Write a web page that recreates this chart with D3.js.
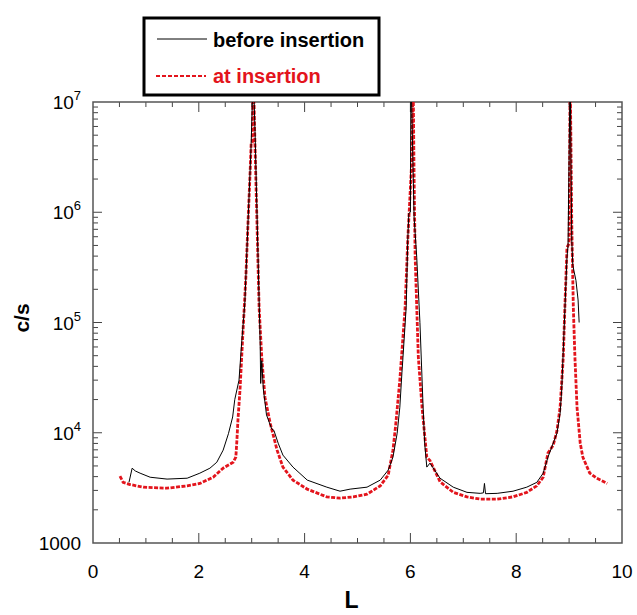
<!DOCTYPE html>
<html>
<head>
<meta charset="utf-8">
<script src="https://cdnjs.cloudflare.com/ajax/libs/d3/7.8.5/d3.min.js"></script>
<style>
    body { margin: 0; background: #fff; }
    text { font-family: Arial, "Liberation Sans", sans-serif; }
</style>
</head>
<body>
<div id="chart"></div>
<script>
// before insertion (black)
const beforeL = [0.68, 0.74, 0.80, 0.89, 1.08, 1.40, 1.78, 2.02, 2.21, 2.34, 2.46, 2.56, 2.64, 2.68, 2.76, 2.81, 2.87, 2.93, 2.99, 3.03, 3.07, 3.12, 3.16, 3.17, 3.19, 3.22, 3.25, 3.28, 3.33, 3.38, 3.42, 3.50, 3.59, 3.78, 4.05, 4.42, 4.67, 4.86, 5.18, 5.43, 5.58, 5.67, 5.75, 5.80, 5.84, 5.86, 5.92, 5.95, 5.97, 6.00, 6.01, 6.07, 6.12, 6.18, 6.24, 6.27, 6.31, 6.37, 6.56, 6.81, 7.07, 7.32, 7.38, 7.40, 7.42, 7.64, 7.94, 8.20, 8.39, 8.51, 8.60, 8.70, 8.77, 8.83, 8.86, 8.89, 8.96, 8.98, 9.00, 9.02, 9.05, 9.07, 9.13, 9.17, 9.19];
const beforeCps = [3550, 4770, 4500, 4300, 3950, 3800, 3870, 4300, 4770, 5400, 6950, 9800, 13900, 20000, 30000, 65000, 150000, 800000, 4200000, 20000000, 4000000, 390000, 65000, 28000, 45000, 25000, 19000, 14500, 12500, 10800, 10500, 8050, 6270, 4880, 3720, 3210, 2950, 3080, 3210, 3720, 4580, 6000, 9900, 17000, 35000, 48500, 137000, 560000, 980000, 1000000, 20000000, 900000, 390000, 100000, 17000, 8000, 4880, 5300, 3870, 3210, 2880, 2820, 2850, 3470, 2800, 2820, 2950, 3210, 3550, 4300, 6000, 8050, 9900, 15000, 24500, 56000, 390000, 500000, 3200000, 20000000, 560000, 330000, 240000, 160000, 100000];

// at insertion (red dashed)
const atL = [0.51, 0.57, 0.70, 0.95, 1.40, 1.78, 2.02, 2.27, 2.46, 2.65, 2.70, 2.72, 2.74, 2.78, 2.83, 2.89, 2.93, 2.97, 2.99, 3.01, 3.03, 3.06, 3.10, 3.14, 3.19, 3.25, 3.35, 3.48, 3.59, 3.78, 4.05, 4.42, 4.67, 4.92, 5.18, 5.43, 5.58, 5.67, 5.72, 5.80, 5.90, 5.95, 6.03, 6.05, 6.07, 6.09, 6.15, 6.22, 6.31, 6.37, 6.56, 6.81, 7.07, 7.32, 7.64, 7.94, 8.20, 8.39, 8.51, 8.60, 8.70, 8.77, 8.83, 8.89, 8.92, 8.96, 9.00, 9.02, 9.05, 9.08, 9.11, 9.15, 9.21, 9.26, 9.39, 9.52, 9.72];
const atCps = [4040, 3550, 3390, 3210, 3140, 3300, 3470, 3950, 4770, 5400, 6000, 8500, 13000, 25000, 74000, 260000, 800000, 2300000, 4200000, 4300000, 20000000, 4500000, 800000, 137000, 48500, 21000, 12200, 6950, 4880, 3720, 3080, 2620, 2550, 2620, 2770, 3300, 4120, 6950, 11500, 30000, 137000, 560000, 3200000, 20000000, 2000000, 390000, 48500, 17000, 6000, 5600, 3600, 2880, 2620, 2500, 2500, 2620, 2880, 3300, 3950, 6530, 7700, 10400, 17000, 48500, 137000, 480000, 520000, 20000000, 800000, 137000, 48500, 17000, 8050, 6000, 4300, 3870, 3470];

const xTicks = [0, 2, 4, 6, 8, 10];
const yTicks = [1000, 1e4, 1e5, 1e6, 1e7];

const margin = { top: 102, right: 15, bottom: 72, left: 93 },
      width = 637 - margin.left - margin.right,
      height = 615 - margin.top - margin.bottom;

const svg = d3.select('#chart').append('svg')
    .attr('width', 637)
    .attr('height', 615);

const g = svg.append('g')
    .attr('transform', `translate(${margin.left},${margin.top})`);

const x = d3.scaleLinear().domain([0, 10]).range([0, width]);
const y = d3.scaleLog().domain([1000, 1e7]).range([height, 0]);

g.append('clipPath').attr('id', 'plotClip')
    .append('rect').attr('width', width).attr('height', height);

// minor/major ticks, drawn inward on all four sides
const xMinor = d3.range(0, 10.01, 0.5).filter(v => v % 2 !== 0);
const yMinor = [];
[1000, 1e4, 1e5, 1e6].forEach(dec => { for (let k = 2; k <= 9; k++) yMinor.push(dec * k); });

const tickColor = '#444';
function drawTicks(vals, len) {
    vals.forEach(v => {
        g.append('line').attr('x1', x(v)).attr('x2', x(v)).attr('y1', height).attr('y2', height - len)
            .attr('stroke', tickColor).attr('stroke-width', 1);
        g.append('line').attr('x1', x(v)).attr('x2', x(v)).attr('y1', 0).attr('y2', len)
            .attr('stroke', tickColor).attr('stroke-width', 1);
    });
}
drawTicks(xTicks.slice(1, -1), 10);
drawTicks(xMinor, 5);

function drawYTicks(vals, len) {
    vals.forEach(v => {
        g.append('line').attr('x1', 0).attr('x2', len).attr('y1', y(v)).attr('y2', y(v))
            .attr('stroke', tickColor).attr('stroke-width', 1);
        g.append('line').attr('x1', width).attr('x2', width - len).attr('y1', y(v)).attr('y2', y(v))
            .attr('stroke', tickColor).attr('stroke-width', 1);
    });
}
drawYTicks(yTicks.slice(1, -1), 9);
drawYTicks(yMinor, 5);

// frame
g.append('rect')
    .attr('width', width).attr('height', height)
    .attr('fill', 'none').attr('stroke', '#555').attr('stroke-width', 1.5);

// x tick labels
g.selectAll('.xlab')
    .data(xTicks)
    .enter().append('text')
    .attr('class', 'xlab')
    .attr('x', d => x(d))
    .attr('y', height + 35)
    .attr('text-anchor', 'middle')
    .attr('font-size', 19)
    .text(d => d);

// y tick labels
yTicks.forEach(v => {
    const t = g.append('text')
        .attr('x', -12)
        .attr('y', y(v) + 7)
        .attr('text-anchor', 'end')
        .attr('font-size', 19);
    if (v === 1000) {
        t.text('1000');
    } else {
        t.append('tspan').text('10');
        t.append('tspan').attr('font-size', 13).attr('dy', -9).text(Math.round(Math.log10(v)));
    }
});

// axis titles
svg.append('text')
    .attr('x', margin.left + width / 2 - 6)
    .attr('y', 608)
    .attr('text-anchor', 'middle')
    .attr('font-size', 23)
    .attr('font-weight', 'bold')
    .text('L');

svg.append('text')
    .attr('transform', 'rotate(-90)')
    .attr('x', -318)
    .attr('y', 29)
    .attr('text-anchor', 'middle')
    .attr('font-size', 21)
    .attr('font-weight', 'bold')
    .text('c/s');

// curves
const line = d3.line()
    .x(d => x(d[0]))
    .y(d => y(d[1]));

const plot = g.append('g').attr('clip-path', 'url(#plotClip)');

plot.append('path')
    .datum(atL.map((l, i) => [l, atCps[i]]))
    .attr('fill', 'none')
    .attr('stroke', '#e3141c')
    .attr('stroke-width', 2.8)
    .attr('stroke-dasharray', '4,1.5')
    .attr('d', line);

plot.append('path')
    .datum(beforeL.map((l, i) => [l, beforeCps[i]]))
    .attr('fill', 'none')
    .attr('stroke', '#000')
    .attr('stroke-width', 1)
    .attr('d', line);

// legend
const legend = svg.append('g');
legend.append('rect')
    .attr('x', 144).attr('y', 18).attr('width', 235).attr('height', 77)
    .attr('fill', '#fff').attr('stroke', '#000').attr('stroke-width', 3);

legend.append('line')
    .attr('x1', 157).attr('x2', 207).attr('y1', 39).attr('y2', 39)
    .attr('stroke', '#000').attr('stroke-width', 1);
legend.append('text')
    .attr('x', 213).attr('y', 47)
    .attr('font-size', 20).attr('font-weight', 'bold')
    .attr('fill', '#000')
    .text('before insertion');

legend.append('line')
    .attr('x1', 156).attr('x2', 206).attr('y1', 76).attr('y2', 76)
    .attr('stroke', '#e3141c').attr('stroke-width', 2.2)
    .attr('stroke-dasharray', '4,2');
legend.append('text')
    .attr('x', 213).attr('y', 83)
    .attr('font-size', 20).attr('font-weight', 'bold')
    .attr('fill', '#e3141c')
    .text('at insertion');
</script>
</body>
</html>
